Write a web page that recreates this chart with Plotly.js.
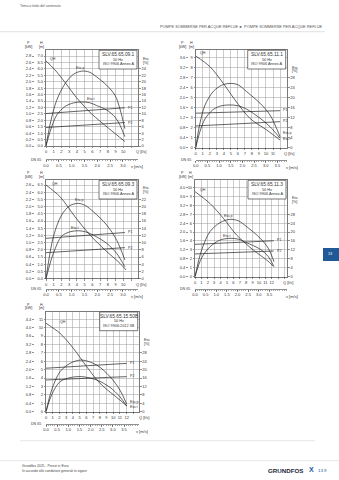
<!DOCTYPE html>
<html><head><meta charset="utf-8">
<script src="https://cdn.plot.ly/plotly-3.0.1.min.js"></script>
<style>html,body{margin:0;padding:0;background:#fff}#chart{width:339px;height:480px}</style>
</head><body><div id="chart"></div>
<script>
// ---------------- DATA ----------------
const V_PER_Q = 4 / (Math.PI * 0.065 * 0.065) / 1000; // v [m/s] per Q [l/s], DN 65

// Chart 1
const c1Title = ["SLV.65.65.09.1", "50 Hz", "ISO 9906 Annex A"];
const c1QH = [0, 1.16, 2.46, 3.97, 5.9, 8.06, 10.2];
const c1H = [6.62, 5.92, 4.95, 3.75, 2.5, 1.4, 0.35];
const c1QEta = [0, 0.6, 1.38, 2.46, 3.54, 4.6, 5.6, 6.55, 7.85, 8.93, 9.57, 10.2];
const c1EtaP = [0, 7.5, 14.2, 19.4, 22.3, 23.3, 23.0, 21.5, 18.9, 15.8, 11.5, 5.4];
const c1EtaT = [0, 5.0, 9.6, 12.3, 13.4, 13.7, 13.5, 12.6, 11.2, 9.0, 6.5, 2.9];
const c1QP = [0, 5, 10.2];
const c1P1 = [1.01, 1.10, 1.19];
const c1P2 = [0.575, 0.65, 0.73];
const c1QTicks = [0,1,2,3,4,5,6,7,8,9,10];
const c1HTicks = [0,0.5,1,1.5,2,2.5,3,3.5,4,4.5,5,5.5,6,6.5,7];
const c1PTicks = [0,0.2,0.4,0.6,0.8,1.0,1.2,1.4,1.6,1.8,2.0,2.2,2.4,2.6,2.8];
const c1EtaTicks = [0,2,4,6,8,10,12,14,16,18,20,22,24];
const c1VTicks = [0,0.5,1,1.5,2,2.5,3];

// Chart 2
const c2Title = ["SLV.65.65.11.1", "50 Hz", "ISO 9906 Annex A"];
const c2QH = [0, 2.03, 3.93, 5.6, 7.72, 10.1, 12.0];
const c2H = [9.17, 8.1, 6.43, 4.77, 2.93, 1.77, 0.77];
const c2QEta = [0, 0.61, 1.32, 2.5, 3.7, 4.88, 6.0, 7.25, 9.15, 10.57, 12.0];
const c2EtaP = [0, 9.8, 17.0, 22.5, 25.0, 25.7, 25.2, 22.4, 17.8, 13.1, 4.4];
const c2EtaT = [0, 6.5, 11.5, 15.3, 16.8, 17.1, 16.8, 15.4, 11.8, 8.4, 3.8];
const c2QP = [0, 6, 12];
const c2P1 = [1.38, 1.43, 1.48];
const c2P2 = [0.87, 0.95, 1.04];
const c2QTicks = [0,1,2,3,4,5,6,7,8,9,10,11];
const c2HTicks = [0,1,2,3,4,5,6,7,8,9];
const c2PTicks = [0,0.4,0.8,1.2,1.6,2.0,2.4,2.8,3.2,3.6];
const c2EtaTicks = [0,4,8,12,16,20,24,28];
const c2VTicks = [0,0.5,1,1.5,2,2.5,3,3.5];

// Chart 3
const c3Title = ["SLV.65.65.09.3", "50 Hz", "ISO 9906 Annex A"];
const c3QH = [0, 1.81, 3.75, 5.69, 7.63, 9.57, 10.35];
const c3H = [6.5, 5.69, 4.3, 3.03, 1.99, 1.06, 0.6];
const c3QEta = [0, 0.95, 2.03, 3.1, 4.18, 5.1, 6.12, 7.85, 9.14, 10.2];
const c3EtaP = [0, 11.6, 17.7, 20.3, 20.9, 20.3, 18.6, 14.9, 10.7, 5.2];
const c3EtaT = [0, 7.0, 11.8, 13.0, 13.3, 13.0, 12.1, 9.8, 7.0, 3.3];
const c3QP = [0, 5, 10.2];
const c3P1 = [1.12, 1.20, 1.28];
const c3P2 = [0.72, 0.79, 0.86];
const c3QTicks = [0,1,2,3,4,5,6,7,8,9,10];
const c3HTicks = [0,0.5,1,1.5,2,2.5,3,3.5,4,4.5,5,5.5,6,6.5];
const c3PTicks = [0,0.2,0.4,0.6,0.8,1.0,1.2,1.4,1.6,1.8,2.0,2.2,2.4,2.6];
const c3EtaTicks = [0,2,4,6,8,10,12,14,16,18,20,22];
const c3VTicks = [0,0.5,1,1.5,2,2.5,3];

// Chart 4
const c4Title = ["SLV.65.65.11.3", "50 Hz", "ISO 9906 Annex A"];
const c4QH = [0, 2.34, 4.43, 6.5, 9.1, 11.2, 12.2];
const c4H = [9.52, 8.2, 6.54, 4.67, 2.99, 1.87, 1.2];
const c4QEta = [0, 1.04, 2.34, 3.9, 5.47, 6.8, 8.08, 10.2, 11.45, 12.34];
const c4EtaP = [0, 12.0, 20.2, 24.2, 25.7, 25.0, 22.4, 17.2, 12.7, 6.7];
const c4EtaT = [0, 8.5, 13.4, 16.4, 17.2, 16.8, 15.2, 12.3, 9.0, 4.5];
const c4QP = [0, 6, 12.3];
const c4P1 = [1.45, 1.53, 1.61];
const c4P2 = [1.02, 1.08, 1.15];
const c4QTicks = [0,1,2,3,4,5,6,7,8,9,10,11,12];
const c4HTicks = [0,1,2,3,4,5,6,7,8,9,10];
const c4PTicks = [0,0.4,0.8,1.2,1.6,2.0,2.4,2.8,3.2,3.6,4.0];
const c4EtaTicks = [0,4,8,12,16,20,24,28];
const c4VTicks = [0,0.5,1,1.5,2,2.5,3,3.5];

// Chart 5
const c5Title = ["SLV.65.65.15.50B", "50 Hz", "ISO 9906:2012 3B"];
const c5QH = [0, 2.08, 4.07, 6.05, 8.04, 11.0, 12.05];
const c5H = [10.52, 9.33, 7.54, 5.36, 3.38, 1.39, 0.68];
const c5QEta = [0, 0.84, 2.08, 3.57, 5.31, 7.54, 9.52, 11.0, 12.0];
const c5EtaP = [0, 10.3, 19.0, 23.0, 24.6, 22.2, 16.7, 10.3, 3.7];
const c5EtaT = [0, 8.0, 14.3, 16.2, 16.7, 15.1, 11.6, 7.1, 2.7];
const c5QP = [0, 6, 12];
const c5P1 = [2.07, 2.18, 2.30];
const c5P2 = [1.51, 1.59, 1.67];
const c5QTicks = [0,1,2,3,4,5,6,7,8,9,10,11,12];
const c5HTicks = [0,1,2,3,4,5,6,7,8,9,10,11];
const c5PTicks = [0,0.4,0.8,1.2,1.6,2.0,2.4,2.8,3.2,3.6,4.0,4.4];
const c5EtaTicks = [0,4,8,12,16,20,24,28];
const c5VTicks = [0,0.5,1,1.5,2,2.5,3,3.5];

// ---------------- LAYOUT GEOMETRY (pixels) ----------------
const W = 339, HGT = 480;
const fx = p => p / W, fy = p => 1 - p / HGT;
const FONT = 'Liberation Sans, Arial, sans-serif';
const INK = '#222', GRID = '#9a9a9a', TXT = '#333';

const charts = [
  {d:{title:c1Title,qH:c1QH,h:c1H,qE:c1QEta,eP:c1EtaP,eT:c1EtaT,qP:c1QP,p1:c1P1,p2:c1P2,qT:c1QTicks,hT:c1HTicks,pT:c1PTicks,eT2:c1EtaTicks,vT:c1VTicks},
   g:{left:46,right:138.3,top:50,bottom:146,qMax:11.94,hMax:7.47,pX:33.5,vY:159.5,hDec:1,
      qLab:11.35,vLab:133,lQH:[0.3,6.75],lEP:[3.6,24.4],lET:[5.0,14.6],lP1:[10.4,1.19],lP2:[10.4,0.73],etaLabY:61}},
  {d:{title:c2Title,qH:c2QH,h:c2H,qE:c2QEta,eP:c2EtaP,eT:c2EtaT,qP:c2QP,p1:c2P1,p2:c2P2,qT:c2QTicks,hT:c2HTicks,pT:c2PTicks,eT2:c2EtaTicks,vT:c2VTicks},
   g:{left:195.7,right:287,top:50,bottom:147.7,qMax:12.99,hMax:9.77,pX:187.5,vY:160,hDec:0,
      qLab:12.3,vLab:288,lQH:[0.3,9.45],lEP:[12.1,5.9],lET:[12.1,3.6],lP1:[12.1,1.49],lP2:[12.1,1.05],etaLabY:70}},
  {d:{title:c3Title,qH:c3QH,h:c3H,qE:c3QEta,eP:c3EtaP,eT:c3EtaT,qP:c3QP,p1:c3P1,p2:c3P2,qT:c3QTicks,hT:c3HTicks,pT:c3PTicks,eT2:c3EtaTicks,vT:c3VTicks},
   g:{left:46,right:138.3,top:180,bottom:278.6,qMax:11.94,hMax:6.85,pX:33.5,vY:289,hDec:1,
      qLab:11.35,vLab:133,lQH:[0.5,6.6],lEP:[3.5,21.8],lET:[3.0,14.0],lP1:[10.4,1.29],lP2:[10.4,0.86],etaLabY:190}},
  {d:{title:c4Title,qH:c4QH,h:c4H,qE:c4QEta,eP:c4EtaP,eT:c4EtaT,qP:c4QP,p1:c4P1,p2:c4P2,qT:c4QTicks,hT:c4HTicks,pT:c4PTicks,eT2:c4EtaTicks,vT:c4VTicks},
   g:{left:195,right:287.3,top:180,bottom:276.7,qMax:14.42,hMax:10.83,pX:187.5,vY:289,hDec:0,
      qLab:13.5,vLab:288,lQH:[0.4,9.75],lEP:[4.2,27.3],lET:[4.0,18.2],lP1:[12.5,1.63],lP2:[12.5,1.16],etaLabY:200}},
  {d:{title:c5Title,qH:c5QH,h:c5H,qE:c5QEta,eP:c5EtaP,eT:c5EtaT,qP:c5QP,p1:c5P1,p2:c5P2,qT:c5QTicks,hT:c5HTicks,pT:c5PTicks,eT2:c5EtaTicks,vT:c5VTicks},
   g:{left:46,right:139,top:311.7,bottom:411.7,qMax:13.84,hMax:11.9,pX:33.5,vY:424,hDec:0,
      qLab:13.5,vLab:138,lQH:[1.8,10.7],lEP:[12.2,4.6],lET:[12.2,2.4],lP1:[12.2,2.31],lP2:[12.2,1.68],etaLabY:342}}
];

const axKey = (l,k) => k === 1 ? l + 'axis' : l + 'axis' + k;
const axId = (l,k) => k === 1 ? l : l + k;

const traces = [];
const layout = {
  width: W, height: HGT, margin:{l:0,r:0,t:0,b:0},
  paper_bgcolor:'#fff', plot_bgcolor:'rgba(0,0,0,0)', showlegend:false,
  font:{family:FONT, size:4, color:TXT},
  annotations:[], shapes:[]
};
const A = layout.annotations, S = layout.shapes;
function txt(x, y, text, size, opt) {
  A.push(Object.assign({xref:'paper', yref:'paper', x:fx(x), y:fy(y), text:text, showarrow:false,
    font:{size:size, color:TXT, family:FONT}, xanchor:'left', yanchor:'middle'}, opt || {}));
}
const tickFont = {size:4, color:TXT, family:FONT};

charts.forEach((c, i) => {
  const d = c.d, g = c.g;
  const xq = 2*i+1, xv = 2*i+2, yh = 3*i+1, yp = 3*i+2, ye = 3*i+3;
  const XQ = axId('x',xq), XV = axId('x',xv), YH = axId('y',yh), YP = axId('y',yp), YE = axId('y',ye);
  const dom = [fy(g.bottom), fy(g.top)];
  const qGrid = [];
  for (let q = 0; q <= Math.floor(g.qMax); q++) qGrid.push(q);

  layout[axKey('x',xq)] = {domain:[fx(g.left), fx(g.right)], range:[0, g.qMax], anchor:YH,
    tickmode:'array', tickvals:qGrid, ticktext:qGrid.map(q => d.qT.includes(q) ? String(q) : ''),
    showgrid:true, gridcolor:GRID, gridwidth:0.5, zeroline:false,
    showline:true, mirror:true, linecolor:INK, linewidth:0.6,
    ticks:'outside', ticklen:1.5, tickwidth:0.5, tickcolor:INK, tickfont:tickFont, tickangle:0, fixedrange:true};
  layout[axKey('x',xv)] = {overlaying:XQ, anchor:'free', position:fy(g.vY), side:'bottom',
    range:[0, g.qMax * V_PER_Q], tickmode:'array', tickvals:d.vT, ticktext:d.vT.map(v => v.toFixed(1)),
    showgrid:false, zeroline:false, showline:true, linecolor:INK, linewidth:0.5,
    ticks:'outside', ticklen:2, tickwidth:0.5, tickcolor:INK, tickfont:tickFont, tickangle:0,
    minor:{dtick:0.1, ticks:'outside', ticklen:1, tickwidth:0.4, tickcolor:INK}, fixedrange:true};
  layout[axKey('y',yh)] = {domain:dom, range:[0, g.hMax], anchor:XQ,
    tickmode:'array', tickvals:d.hT, ticktext:d.hT.map(v => v.toFixed(g.hDec)),
    showgrid:true, gridcolor:GRID, gridwidth:0.5, zeroline:false,
    showline:true, mirror:true, linecolor:INK, linewidth:0.6,
    ticks:'outside', ticklen:1.5, tickwidth:0.5, tickcolor:INK, tickfont:tickFont, fixedrange:true};
  layout[axKey('y',yp)] = {overlaying:YH, anchor:'free', position:fx(g.pX), side:'left',
    range:[0, g.hMax * 0.4], tickmode:'array', tickvals:d.pT, ticktext:d.pT.map(v => v.toFixed(1)),
    showgrid:false, zeroline:false, showline:false,
    ticks:'outside', ticklen:1.5, tickwidth:0.5, tickcolor:INK, tickfont:tickFont, fixedrange:true};
  layout[axKey('y',ye)] = {overlaying:YH, anchor:XQ, side:'right',
    range:[0, g.hMax * 4], tickmode:'array', tickvals:d.eT2, ticktext:d.eT2.map(String),
    showgrid:false, zeroline:false, showline:false,
    ticks:'outside', ticklen:1.5, tickwidth:0.5, tickcolor:INK, tickfont:tickFont, fixedrange:true};

  const ln = (x, y, ya, shape) => ({x:x, y:y, xaxis:XQ, yaxis:ya, type:'scatter', mode:'lines',
    line:{color:INK, width:0.7, shape:shape, smoothing:0.9}, hoverinfo:'skip'});
  traces.push(ln(d.qH, d.h, YH, 'spline'));
  traces.push(ln(d.qE, d.eP, YE, 'spline'));
  traces.push(ln(d.qE, d.eT, YE, 'spline'));
  traces.push(ln(d.qP, d.p1, YP, 'linear'));
  traces.push(ln(d.qP, d.p2, YP, 'linear'));
  // carrier so the velocity axis is drawn
  traces.push({x:d.vT, y:d.vT.map(() => null), xaxis:XV, yaxis:YH, type:'scatter', mode:'lines', hoverinfo:'skip'});

  // curve labels
  const lab = (q, v, ya, t) => A.push({xref:XQ, yref:ya, x:q, y:v, text:t, showarrow:false,
    xanchor:'left', yanchor:'middle', font:{size:3.6, color:TXT, family:FONT}});
  lab(g.lQH[0], g.lQH[1], YH, 'QH');
  lab(g.lEP[0], g.lEP[1], YE, 'Eta p');
  lab(g.lET[0], g.lET[1], YE, 'Eta t');
  lab(g.lP1[0], g.lP1[1], YP, 'P1');
  lab(g.lP2[0], g.lP2[1], YP, 'P2');

  // axis titles
  const pLabX = g.pX - 5.5, hLabX = g.left - 4.5;
  txt(pLabX, g.top - 7, 'P', 3.6, {xanchor:'center'});
  txt(pLabX, g.top - 3.5, '[kW]', 3.6, {xanchor:'center'});
  txt(hLabX, g.top - 7, 'H', 3.6, {xanchor:'center'});
  txt(hLabX, g.top - 3.5, '[m]', 3.6, {xanchor:'center'});
  txt(g.right + 2.5, g.etaLabY - 2, 'Eta', 3.6);
  txt(g.right + 2.5, g.etaLabY + 1.5, '[%]', 3.6);
  // Q / v labels
  A.push({xref:XQ, yref:'paper', x:g.qLab, y:fy(g.bottom + 5.5), text:'Q [l/s]', showarrow:false,
    xanchor:'left', yanchor:'middle', font:{size:4, color:TXT, family:FONT}});
  txt(g.vLab - 4, g.vY + 7, 'v [m/s]', 4);
  txt(g.left - 3, g.vY, 'DN 65', 3.6, {xanchor:'right'});

  // title box
  const bR = g.right - 1.3, bW = 38, bH = 19;
  S.push({type:'rect', xref:'paper', yref:'paper', x0:fx(bR - bW), x1:fx(bR), y0:fy(g.top + bH), y1:fy(g.top + 0.3),
    line:{color:INK, width:0.6}, fillcolor:'#fff', layer:'above'});
  txt(bR - bW/2, g.top + 4.5, d.title[0], 4.8, {xanchor:'center'});
  txt(bR - bW/2, g.top + 9.5, d.title[1], 3.8, {xanchor:'center'});
  txt(bR - bW/2, g.top + 14.3, d.title[2], 3.8, {xanchor:'center'});
});

// page header / footer
txt(18, 6, 'Tema o titolo del contenuto', 3.4, {font:{size:3.4, color:'#555', family:FONT}});
txt(325, 26.7, 'POMPE SOMMERSE PER ACQUE REFLUE ► POMPE SOMMERSE PER ACQUE REFLUE', 3.9,
    {xanchor:'right', font:{size:3.9, color:'#555', family:FONT}});
S.push({type:'line', xref:'paper', yref:'paper', x0:0, x1:fx(325), y0:fy(31.7), y1:fy(31.7), line:{color:'#cfcfcf', width:0.6}});
S.push({type:'line', xref:'paper', yref:'paper', x0:fx(20), x1:fx(315), y0:fy(440.7), y1:fy(440.7), line:{color:'#d5d5d5', width:0.6}});
S.push({type:'line', xref:'paper', yref:'paper', x0:0, x1:1, y0:fy(460.7), y1:fy(460.7), line:{color:'#d5d5d5', width:0.6}});
txt(20, 466, 'Grundfos 2025 - Prezzi in Euro', 3.4, {font:{size:3.4, color:'#444', family:FONT}});
txt(20, 470.7, 'In accordo alle condizioni generali in vigore', 3.4, {font:{size:3.4, color:'#444', family:FONT}});
txt(305, 470, '<b>GRUNDFOS</b>', 6.2, {xanchor:'right', font:{size:6.2, color:'#1b2a3a', family:FONT}});
txt(311.5, 469.5, '<b>X</b>', 7, {xanchor:'center', font:{size:7, color:'#1d5aa0', family:FONT}});
txt(322, 470, '13.9', 4.4, {xanchor:'center', font:{size:4.4, color:'#1d5aa0', family:FONT}});
// side tab
S.push({type:'rect', xref:'paper', yref:'paper', x0:fx(323), x1:1, y0:fy(261), y1:fy(248), line:{width:0}, fillcolor:'#1f5a96'});
txt(330, 254.5, '13', 3.8, {xanchor:'center', font:{size:3.8, color:'#fff', family:FONT}});

Plotly.newPlot('chart', traces, layout, {staticPlot:true, displayModeBar:false});
</script></body></html>
